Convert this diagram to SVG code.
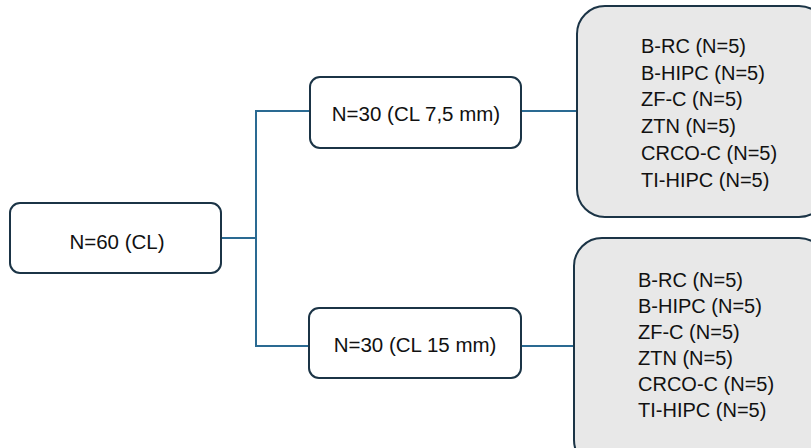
<svg xmlns="http://www.w3.org/2000/svg" width="811" height="448" viewBox="0 0 811 448">
<style>
.box{fill:#ffffff;stroke:#1b3446;stroke-width:2}
.grp{fill:#e8e8e8;stroke:#1b3446;stroke-width:2}
.conn{fill:none;stroke:#2a6a92;stroke-width:2}
text{font-family:"Liberation Sans",Arial,sans-serif;font-size:20px;fill:#111111}
.c{text-anchor:middle;font-size:20.5px}
</style>
<rect width="811" height="448" fill="#ffffff"/>
<g id="connectors">
<line class="conn" x1="222" y1="238" x2="256" y2="238"/>
<polyline class="conn" points="310,111 256,111 256,346 310,346"/>
<line class="conn" x1="521" y1="111" x2="577" y2="111"/>
<line class="conn" x1="521" y1="346" x2="574" y2="346"/>
</g>
<g id="root">
<rect class="box" x="10" y="203" width="211" height="70" rx="10"/>
<text class="c" x="117" y="249">N=60 (CL)</text>
</g>
<g id="mid1">
<rect class="box" x="310" y="77" width="211" height="71" rx="10"/>
<text class="c" x="416" y="121">N=30 (CL 7,5 mm)</text>
</g>
<g id="mid2">
<rect class="box" x="309" y="308" width="212" height="70" rx="10"/>
<text class="c" x="415" y="352">N=30 (CL 15 mm)</text>
</g>
<g id="grp1">
<rect class="grp" x="577" y="6" width="250" height="211" rx="28"/>
<text x="641" y="53">B-RC (N=5)</text>
<text x="641" y="79.7">B-HIPC (N=5)</text>
<text x="641" y="106.4">ZF-C (N=5)</text>
<text x="641" y="133.1">ZTN (N=5)</text>
<text x="641" y="159.8">CRCO-C (N=5)</text>
<text x="641" y="186.5">TI-HIPC (N=5)</text>
</g>
<g id="grp2">
<rect class="grp" x="574" y="238" width="253" height="230" rx="28"/>
<text x="638" y="287">B-RC (N=5)</text>
<text x="638" y="313">B-HIPC (N=5)</text>
<text x="638" y="339">ZF-C (N=5)</text>
<text x="638" y="365">ZTN (N=5)</text>
<text x="638" y="391">CRCO-C (N=5)</text>
<text x="638" y="417">TI-HIPC (N=5)</text>
</g>
</svg>
